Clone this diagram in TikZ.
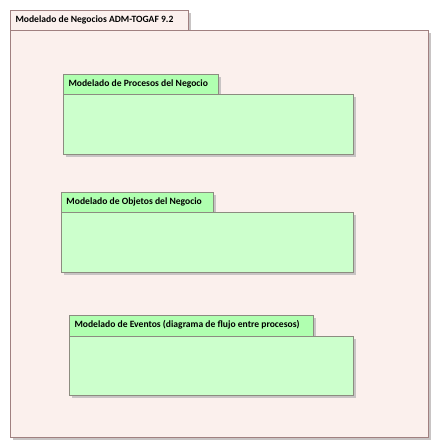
\documentclass[tikz,border=0pt]{standalone}
\usepackage{fontspec}
\setmainfont{Carlito}
\usetikzlibrary{positioning}

\definecolor{pkgfill}{RGB}{251,240,237}
\definecolor{pkgline}{RGB}{160,128,128}
\definecolor{subtab}{RGB}{176,255,176}
\definecolor{subfill}{RGB}{204,255,204}
\definecolor{subline}{RGB}{140,140,128}
\definecolor{shadowgray}{RGB}{200,196,196}

\tikzset{every picture/.style={line width=0.75pt}}
\tikzset{
	pkgbox/.style={draw=pkgline, fill=pkgfill},
	subbox/.style={draw=subline, fill=subfill},
	subtabbox/.style={draw=subline, fill=subtab},
	shade box/.style={draw=none, fill=shadowgray},
	pkgtitle/.style={anchor=west, inner sep=0pt, font=\fontsize{7.2}{8}\selectfont\bfseries}
}

\begin{document}
\begin{tikzpicture}[x=0.75pt,y=0.75pt,yscale=-1,xscale=1]
	\useasboundingbox (0,0) rectangle (438,447);
	\fill[white] (0,0) rectangle (438,447);

	%Package: outer [shadow]
	\fill [shade box] (13,33) rectangle (431,440);
	\fill [shade box] (13,13) rectangle (191,31);
	%Package: outer
	\draw [pkgbox] (10,10) -- (188,10) -- (188,30) -- (10,30) -- cycle ;
	\draw [pkgbox] (10,30) -- (428,30) -- (428,437) -- (10,437) -- cycle ;

	%Package: procesos [shadow]
	\fill [shade box] (66,77) rectangle (221,96);
	\fill [shade box] (66,97) rectangle (356,157);
	%Package: procesos
	\draw [subtabbox] (63,74) -- (218,74) -- (218,94) -- (63,94) -- cycle ;
	\draw [subbox] (63,94) -- (353,94) -- (353,154) -- (63,154) -- cycle ;

	%Package: objetos [shadow]
	\fill [shade box] (64,195) rectangle (216,214);
	\fill [shade box] (64,215) rectangle (356,275);
	%Package: objetos
	\draw [subtabbox] (61,192) -- (213,192) -- (213,212) -- (61,212) -- cycle ;
	\draw [subbox] (61,212) -- (353,212) -- (353,272) -- (61,272) -- cycle ;

	%Package: eventos [shadow]
	\fill [shade box] (72,318) rectangle (316,338);
	\fill [shade box] (72,339) rectangle (356,398);
	%Package: eventos
	\draw [subtabbox] (69,315) -- (313,315) -- (313,336) -- (69,336) -- cycle ;
	\draw [subbox] (69,336) -- (353,336) -- (353,395) -- (69,395) -- cycle ;

	% Text Node
	\draw (15,20) node [pkgtitle] (tNegocios) {Modelado de Negocios ADM-TOGAF 9.2};
	% Text Node
	\draw (68,84) node [pkgtitle] (tProcesos) {Modelado de Procesos del Negocio};
	% Text Node
	\draw (66,202) node [pkgtitle] (tObjetos) {Modelado de Objetos del Negocio};
	% Text Node
	\draw (74,325) node [pkgtitle] (tEventos) {Modelado de Eventos (diagrama de flujo entre procesos)};

\end{tikzpicture}
\end{document}
